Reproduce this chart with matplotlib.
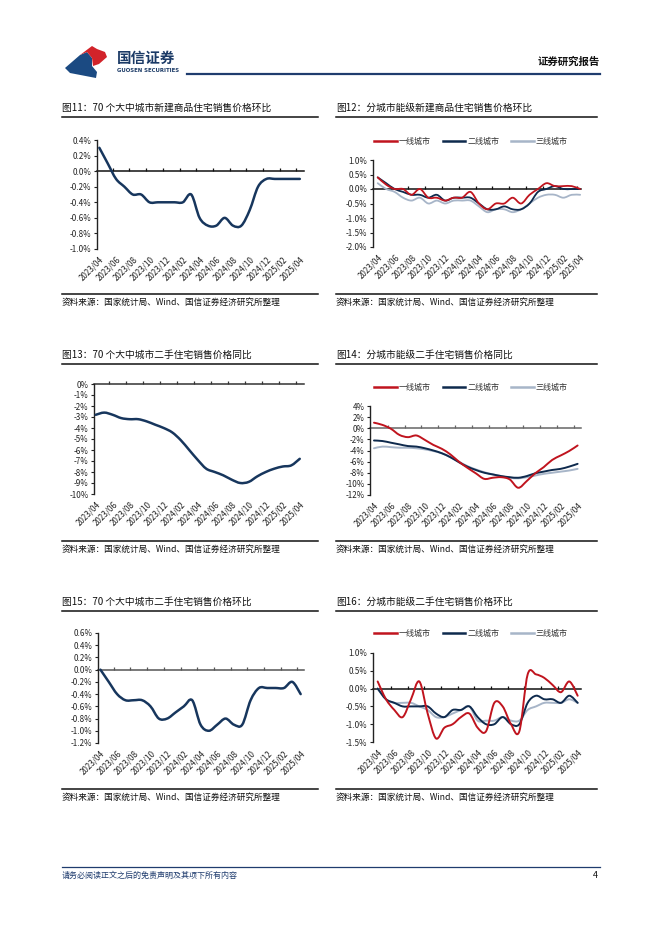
import matplotlib
matplotlib.use("Agg")
import matplotlib.pyplot as plt
import numpy as np
from matplotlib.path import Path
from matplotlib.patches import PathPatch, Polygon
from matplotlib.lines import Line2D

plt.rcParams['font.family'] = ['Noto Sans CJK SC', 'DejaVu Sans']
plt.rcParams['axes.unicode_minus'] = False

# ---------------- data ----------------
months = ['2023/04', '2023/05', '2023/06', '2023/07', '2023/08', '2023/09', '2023/10', '2023/11',
          '2023/12', '2024/01', '2024/02', '2024/03', '2024/04', '2024/05', '2024/06', '2024/07',
          '2024/08', '2024/09', '2024/10', '2024/11', '2024/12', '2025/01', '2025/02', '2025/03',
          '2025/04']
tier_names = ['一线城市', '二线城市', '三线城市']

# 图11 70城新建商品住宅 环比 (%)
new_mom_70 = [0.3, 0.1, -0.1, -0.2, -0.3, -0.3, -0.4, -0.4, -0.4, -0.4, -0.4, -0.3, -0.6,
              -0.7, -0.7, -0.6, -0.7, -0.7, -0.5, -0.2, -0.1, -0.1, -0.1, -0.1, -0.1]
# 图12 分城市能级新建商品住宅 环比 (%)
new_mom_t1 = [0.4, 0.15, 0.0, 0.0, -0.2, 0.0, -0.3, -0.3, -0.4, -0.3, -0.3, -0.1, -0.5,
              -0.7, -0.5, -0.5, -0.3, -0.5, -0.2, 0.0, 0.2, 0.1, 0.1, 0.1, 0.0]
new_mom_t2 = [0.4, 0.2, 0.0, -0.1, -0.2, -0.2, -0.3, -0.2, -0.4, -0.3, -0.3, -0.3, -0.5,
              -0.7, -0.7, -0.6, -0.7, -0.7, -0.5, -0.1, 0.0, 0.1, 0.0, 0.0, 0.0]
new_mom_t3 = [0.2, 0.0, -0.1, -0.3, -0.4, -0.3, -0.5, -0.4, -0.5, -0.4, -0.4, -0.4, -0.6,
              -0.8, -0.7, -0.7, -0.8, -0.7, -0.5, -0.3, -0.2, -0.2, -0.3, -0.2, -0.2]
# 图13 70城二手住宅 同比 (%)
used_yoy_70 = [-2.8, -2.6, -2.8, -3.1, -3.2, -3.2, -3.4, -3.7, -4.0, -4.4, -5.1, -6.0, -6.9,
               -7.7, -8.0, -8.3, -8.7, -9.0, -8.9, -8.4, -8.0, -7.7, -7.5, -7.4, -6.8]
# 图14 分城市能级二手住宅 同比 (%)
used_yoy_t1 = [1.0, 0.6, -0.1, -1.2, -1.6, -1.3, -2.1, -3.0, -3.7, -4.7, -6.0, -7.1, -8.1,
               -9.1, -8.9, -8.8, -9.2, -10.7, -9.5, -8.1, -7.0, -5.7, -4.9, -4.1, -3.1]
used_yoy_t2 = [-2.2, -2.3, -2.6, -2.9, -3.2, -3.3, -3.6, -4.0, -4.5, -5.2, -6.1, -6.9, -7.5,
               -8.0, -8.3, -8.6, -8.8, -8.9, -8.6, -8.1, -7.8, -7.5, -7.3, -6.9, -6.4]
used_yoy_t3 = [-3.6, -3.3, -3.4, -3.5, -3.5, -3.6, -3.8, -4.1, -4.5, -5.2, -6.0, -6.8, -7.4,
               -7.9, -8.3, -8.6, -8.9, -9.0, -8.8, -8.5, -8.2, -8.0, -7.8, -7.6, -7.3]
# 图15 70城二手住宅 环比 (%)
used_mom_70 = [0.0, -0.2, -0.4, -0.5, -0.5, -0.5, -0.6, -0.8, -0.8, -0.7, -0.6, -0.5, -0.9,
               -1.0, -0.9, -0.8, -0.9, -0.9, -0.5, -0.3, -0.3, -0.3, -0.3, -0.2, -0.4]
# 图16 分城市能级二手住宅 环比 (%)
used_mom_t1 = [0.2, -0.3, -0.6, -0.8, -0.3, 0.2, -0.7, -1.4, -1.1, -1.0, -0.8, -0.7, -1.1,
               -1.2, -0.4, -0.5, -1.0, -1.2, 0.4, 0.4, 0.3, 0.1, -0.1, 0.2, -0.2]
used_mom_t2 = [0.0, -0.3, -0.4, -0.5, -0.5, -0.5, -0.5, -0.7, -0.8, -0.6, -0.6, -0.5, -0.8,
               -1.0, -1.0, -0.8, -1.0, -1.0, -0.4, -0.2, -0.3, -0.3, -0.4, -0.2, -0.4]
used_mom_t3 = [0.0, -0.3, -0.4, -0.4, -0.4, -0.5, -0.6, -0.8, -0.8, -0.7, -0.6, -0.5, -0.9,
               -0.9, -0.9, -0.8, -0.9, -0.9, -0.6, -0.5, -0.4, -0.4, -0.4, -0.3, -0.4]

titles = ['图11：70 个大中城市新建商品住宅销售价格环比',
          '图12：分城市能级新建商品住宅销售价格环比',
          '图13：70 个大中城市二手住宅销售价格同比',
          '图14：分城市能级二手住宅销售价格同比',
          '图15：70 个大中城市二手住宅销售价格环比',
          '图16：分城市能级二手住宅销售价格环比']
source_text = '资料来源：国家统计局、Wind、国信证券经济研究所整理'

# ---------------- style ----------------
W, H = 662, 936
RED = '#C0141E'
NAVY = '#0E2A4D'
LIGHT = '#A7B5C8'
SINGLE = '#17365D'
tier_colors = [RED, NAVY, LIGHT]

fig = plt.figure(figsize=(W / 100, H / 100), dpi=100)


def add_ax(l, t, r, b):
    return fig.add_axes([l / W, 1 - b / H, (r - l) / W, (b - t) / H])


def fx(x):
    return x / W


def fy(y):
    return 1 - y / H


def smooth_line(ax, y, color, lw):
    x = np.arange(len(y), dtype=float)
    yv = np.asarray(y, dtype=float)
    pts = np.column_stack([x, yv])
    n = len(pts)
    verts = [pts[0]]
    codes = [Path.MOVETO]
    for i in range(n - 1):
        p0 = pts[i - 1] if i > 0 else pts[i]
        p1 = pts[i]
        p2 = pts[i + 1]
        p3 = pts[i + 2] if i + 2 < n else pts[i + 1]
        c1 = p1 + (p2 - p0) / 6.0
        c2 = p2 - (p3 - p1) / 6.0
        verts += [c1, c2, p2]
        codes += [Path.CURVE4] * 3
    patch = PathPatch(Path(verts, codes), facecolor='none', edgecolor=color, lw=lw,
                      capstyle='round', joinstyle='round', zorder=3)
    ax.add_patch(patch)


def setup_axes(ax, ylim, ystep, fmt, xlim, zero_color='#222222'):
    ax.set_xlim(*xlim)
    ax.set_ylim(*ylim)
    for s in ['top', 'right', 'bottom']:
        ax.spines[s].set_visible(False)
    ax.spines['left'].set_color('#222222')
    ax.spines['left'].set_linewidth(1.0)
    yt = np.arange(ylim[0], ylim[1] + ystep / 2, ystep)
    ax.set_yticks(yt)
    ax.set_yticklabels([fmt.format(v if abs(v) > 1e-9 else 0.0) for v in yt])
    ax.tick_params(axis='y', length=2, width=0.8, labelsize=5.8, pad=2,
                   colors='#222222', labelcolor='#222222')
    ax.set_xticks(range(0, len(months), 2))
    ax.set_xticklabels(months[::2], rotation=45, ha='right', va='top',
                       rotation_mode='anchor')
    ax.tick_params(axis='x', length=0, labelsize=5.8, pad=4, labelcolor='#222222')
    sec = ax.secondary_xaxis(0, transform=ax.transData)
    sec.spines['bottom'].set_color(zero_color)
    sec.spines['bottom'].set_linewidth(1.1)
    sec.set_xticks([2 * k - 0.4 for k in range(1, 13)])
    sec.tick_params(axis='x', direction='in', length=2.5, width=0.9,
                    color=zero_color, labelbottom=False)
    ax.patch.set_alpha(0)


def tier_legend(ax, ycenter):
    handles = [Line2D([], [], color=c, lw=1.8) for c in tier_colors]
    ax.legend(handles, tier_names, loc='center', ncol=3, frameon=False,
              bbox_to_anchor=(fx(471), fy(ycenter)), bbox_transform=fig.transFigure,
              fontsize=5.8, handlelength=2.8, handletextpad=0.25, columnspacing=1.5,
              labelcolor='#333333')


# ---------------- panels ----------------
ax11 = add_ax(97, 140, 304, 249)
setup_axes(ax11, (-1.0, 0.4), 0.2, '{:.1f}%', (-0.28, 24.5), zero_color='#111111')
smooth_line(ax11, new_mom_70, SINGLE, 1.8)

ax12 = add_ax(373, 160, 581, 247)
setup_axes(ax12, (-2.0, 1.0), 0.5, '{:.1f}%', (-0.56, 24.1), zero_color='#111111')
for ser, c in zip([new_mom_t3, new_mom_t2, new_mom_t1], [LIGHT, NAVY, RED]):
    smooth_line(ax12, ser, c, 1.3)
tier_legend(ax12, 141)

ax13 = add_ax(94, 384, 304, 494)
setup_axes(ax13, (-10, 0), 1, '{:.0f}%', (-0.2, 24.5), zero_color='#333333')
smooth_line(ax13, used_yoy_70, SINGLE, 1.8)

ax14 = add_ax(370, 406, 581, 495)
setup_axes(ax14, (-12, 4), 2, '{:.0f}%', (-0.47, 24.4), zero_color='#666666')
for ser, c in zip([used_yoy_t3, used_yoy_t2, used_yoy_t1], [LIGHT, NAVY, RED]):
    smooth_line(ax14, ser, c, 1.4)
tier_legend(ax14, 387)

ax15 = add_ax(98, 633, 304, 743)
setup_axes(ax15, (-1.2, 0.6), 0.2, '{:.1f}%', (-0.29, 24.4), zero_color='#555555')
smooth_line(ax15, used_mom_70, SINGLE, 1.8)

ax16 = add_ax(373, 653, 581, 742)
setup_axes(ax16, (-1.5, 1.0), 0.5, '{:.1f}%', (-0.56, 24.4), zero_color='#111111')
for ser, c in zip([used_mom_t3, used_mom_t2, used_mom_t1], [LIGHT, NAVY, RED]):
    smooth_line(ax16, ser, c, 1.4)
tier_legend(ax16, 633)

# ---------------- titles, rules, sources ----------------
rows = [(108, 117, 294, 302), (355, 364, 541, 549), (602, 611, 789, 797)]
cols = [(62, 318), (336, 597)]
k = 0
for (ty, tl, sl, sy) in rows:
    for (x0, x1) in cols:
        fig.text(fx(x0), fy(ty), titles[k], fontsize=7.0, ha='left', va='center',
                 color='#111111', fontweight='medium')
        fig.add_artist(Line2D([fx(x0), fx(x1)], [fy(tl), fy(tl)], color='#111111', lw=1.1))
        fig.add_artist(Line2D([fx(x0), fx(x1)], [fy(sl), fy(sl)], color='#111111', lw=1.1))
        fig.text(fx(x0), fy(sy), source_text, fontsize=6.2, ha='left', va='center',
                 color='#111111')
        k += 1

# ---------------- header ----------------
logo_blue = [(65, 68), (80, 55), (87, 52), (92, 58), (92, 66), (97, 72), (96, 78), (70, 73)]
logo_red = [(80, 55), (92, 46), (97, 49), (105, 52), (107, 57), (99, 64), (93, 66), (92, 58), (87, 52)]
fig.add_artist(Polygon([(fx(a), fy(b)) for a, b in logo_blue], closed=True,
                       facecolor='#1B4A82', edgecolor='none', transform=fig.transFigure))
fig.add_artist(Polygon([(fx(a), fy(b)) for a, b in logo_red], closed=True,
                       facecolor='#D2232A', edgecolor='none', transform=fig.transFigure))
fig.text(fx(117), fy(58), '国信证券', fontsize=10.5, fontweight='bold', color='#1B3A66',
         ha='left', va='center')
fig.text(fx(117), fy(71), 'GUOSEN SECURITIES', fontsize=3.9, color='#1B3A66',
         ha='left', va='center', family='DejaVu Sans', fontweight='bold')
fig.add_artist(Line2D([fx(187), fx(600)], [fy(74), fy(74)], color='#1F3C6E', lw=1.6))
fig.text(fx(600), fy(62), '证券研究报告', fontsize=7.5, fontweight='bold', color='#111111',
         ha='right', va='center')

# ---------------- footer ----------------
fig.add_artist(Line2D([fx(62), fx(600)], [fy(867), fy(867)], color='#1F3C6E', lw=0.9))
fig.text(fx(62), fy(875), '请务必阅读正文之后的免责声明及其项下所有内容', fontsize=5.8,
         style='italic', color='#1F3C6E', ha='left', va='center')
fig.text(fx(598), fy(875), '4', fontsize=6.5, color='#111111', ha='right', va='center')

fig.savefig('out.png', dpi=100)
